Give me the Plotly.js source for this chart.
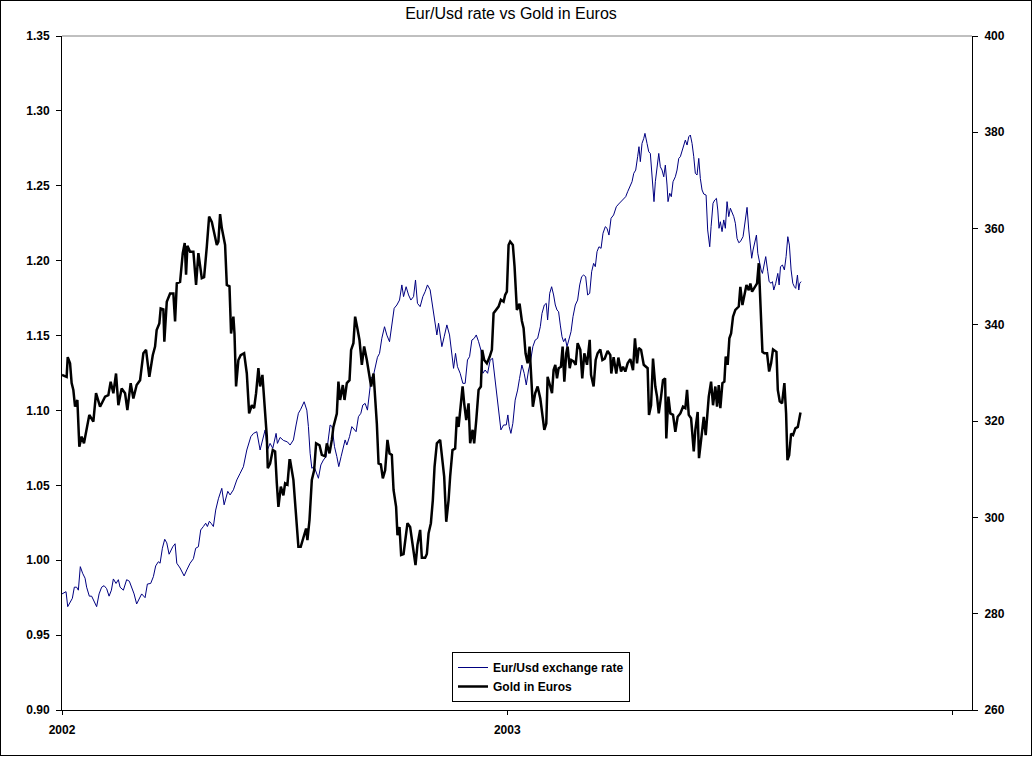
<!DOCTYPE html>
<html>
<head>
<meta charset="utf-8">
<script src="https://cdn.plot.ly/plotly-3.0.1.min.js"></script>
<style>
  body { margin: 0; background: #fff; }
  #chart { width: 1030px; height: 754px; border: 1px solid #000; }
</style>
</head>
<body>
<div id="chart"></div>
<script>
// days counted from 1 Jan 2002
var fxDay = [0, 3.3, 4.7, 6.6, 8.5, 10.1, 12.0, 13.4, 15.0, 16.9, 18.9, 20.2, 22.4, 24.3, 26.3, 28.4, 30.4, 32.5, 34.5, 36.6,
    38.6, 40.5, 42.1, 44.3, 46.2, 47.6, 50.3, 53.0, 55.2, 57.4, 59.1, 61.2, 63.4, 65.3, 68.1, 70.0, 72.7, 74.9, 76.8, 79.0,
    80.4, 82.3, 84.2, 85.9, 87.8, 89.4, 90.8, 92.7, 94.1, 96.8, 100.1, 102.3, 105.0, 107.7, 109.6, 111.8, 113.7, 115.9, 117.8, 119.2,
    120.8, 122.2, 124.1, 126.0, 128.2, 131.0, 132.9, 135.9, 137.8, 140.5, 143.3, 146.0, 148.7, 151.5, 154.8, 157.0, 159.7, 162.4, 164.6, 166.5,
    168.4, 170.6, 172.8, 175.5, 176.6, 178.8, 181.5, 184.8, 187.0, 189.7, 191.9, 193.8, 195.7, 198.5, 200.7, 202.0, 203.4, 204.8, 206.7, 208.3,
    210.2, 212.2, 214.3, 216.5, 218.4, 219.8, 221.4, 223.4, 225.3, 226.9, 228.8, 230.7, 232.1, 233.5, 235.7, 237.6, 239.5, 241.1, 243.0, 245.0,
    246.6, 248.5, 250.4, 252.1, 253.4, 255.4, 256.7, 258.6, 260.3, 262.2, 264.4, 266.3, 268.5, 270.4, 272.3, 274.5, 276.7, 278.6, 280.0, 282.1,
    284.1, 286.0, 288.2, 289.8, 291.4, 293.6, 295.8, 297.7, 299.6, 301.8, 304.0, 305.4, 307.3, 308.7, 310.0, 311.4, 313.3, 315.5, 317.7, 319.3,
    321.0, 322.6, 324.2, 326.4, 328.6, 330.5, 332.4, 334.1, 336.0, 337.9, 339.6, 341.5, 343.4, 345.0, 346.9, 348.9, 351.0, 353.0, 354.9, 356.5,
    357.9, 359.8, 362.0, 364.2, 365.5, 366.6, 368.0, 369.6, 371.5, 373.5, 375.1, 377.0, 378.9, 380.6, 382.5, 383.8, 386.0, 387.9, 389.9, 392.1,
    393.5, 395.4, 397.0, 398.1, 399.8, 401.4, 403.0, 404.4, 405.8, 407.1, 408.5, 409.9, 411.2, 412.6, 414.0, 415.6, 417.3, 418.9, 420.8, 422.7,
    424.4, 426.0, 427.6, 429.3, 430.9, 432.6, 434.2, 435.8, 437.2, 438.6, 440.2, 441.9, 443.5, 445.4, 446.8, 448.4, 450.1, 452.2, 454.4, 456.3,
    458.3, 460.5, 462.1, 463.7, 465.4, 467.3, 468.7, 470.3, 471.9, 473.0, 474.1, 475.5, 476.9, 477.9, 479.6, 481.0, 482.3, 483.4, 484.5, 485.3,
    486.4, 487.8, 489.2, 490.5, 491.9, 493.3, 494.6, 496.0, 496.8, 498.2, 499.5, 500.9, 502.8, 504.2, 505.6, 506.9, 508.3, 509.7, 511.0, 512.4,
    513.8, 515.1, 516.5, 517.9, 519.2, 520.6, 522.0, 523.3, 524.7, 526.1, 528.0, 529.3, 531.0, 532.1, 533.7, 535.1, 536.5, 537.6, 538.6, 539.7,
    541.1, 542.5, 543.8, 545.2, 546.6, 547.9, 549.3, 550.7, 552.0, 553.4, 554.8, 556.1, 558.3, 560.0, 561.6, 563.0, 564.3, 565.4, 566.5, 567.6,
    569.3, 570.4, 571.7, 573.1, 574.2, 575.3, 576.9, 578.6, 579.7, 581.3, 582.4, 583.5, 585.1, 586.8, 587.9, 589.0, 590.6, 592.2, 593.6, 595.0,
    596.3, 597.7, 599.1, 600.4, 601.5, 602.9, 604.0, 604.8, 605.9];

var fxRate = [0.9775, 0.979, 0.969, 0.972, 0.9746, 0.982, 0.982, 0.980, 0.9957, 0.9913, 0.988, 0.982, 0.976, 0.976, 0.973, 0.969, 0.9775, 0.982, 0.983, 0.981,
    0.976, 0.980, 0.9875, 0.9845, 0.987, 0.982, 0.980, 0.987, 0.986, 0.981, 0.9775, 0.9708, 0.975, 0.9775, 0.975, 0.9841, 0.9845, 0.989, 0.9962, 0.999,
    0.998, 1.008, 1.014, 1.0116, 1.004, 1.007, 1.009, 1.011, 0.998, 0.9948, 0.9895, 0.9935, 0.998, 1.001, 1.008, 1.009, 1.0202, 1.0225, 1.0247, 1.0225,
    1.026, 1.0247, 1.0225, 1.0335, 1.041, 1.048, 1.037, 1.046, 1.0436, 1.047, 1.0536, 1.058, 1.0624, 1.0736, 1.0825, 1.0847, 1.0858, 1.0736, 1.080, 1.087,
    1.0736, 1.078, 1.0747, 1.0847, 1.078, 1.082, 1.080, 1.079, 1.0769, 1.0803, 1.0903, 1.0981, 1.1008, 1.1058, 1.1002, 1.0892, 1.0714, 1.0614, 1.0625, 1.0591,
    1.0547, 1.0636, 1.0669, 1.0692, 1.0803, 1.0903, 1.0892, 1.0758, 1.0692, 1.0625, 1.0692, 1.0747, 1.0803, 1.0769, 1.0825, 1.0892, 1.087, 1.0858, 1.0958, 1.0981,
    1.1036, 1.1047, 1.1002, 1.1136, 1.1214, 1.1237, 1.1292, 1.1355, 1.1381, 1.1482, 1.1559, 1.1503, 1.1459, 1.1582, 1.1682, 1.1704, 1.1737, 1.1838, 1.176, 1.1826,
    1.1771, 1.1737, 1.176, 1.1871, 1.1715, 1.1693, 1.176, 1.1793, 1.1838, 1.1805, 1.1693, 1.1626, 1.1504, 1.1582, 1.1492, 1.1426, 1.1492, 1.1571, 1.1504, 1.1381,
    1.1281, 1.1381, 1.1292, 1.1248, 1.1181, 1.1181, 1.1337, 1.1359, 1.147, 1.1481, 1.1504, 1.1459, 1.1403, 1.1248, 1.127, 1.1248, 1.1337, 1.1348, 1.1214, 1.1092,
    1.0981, 1.087, 1.0903, 1.0903, 1.097, 1.0892, 1.0847, 1.0914, 1.1069, 1.1136, 1.1214, 1.1303, 1.1248, 1.1170, 1.127, 1.1314, 1.1426, 1.147, 1.1481, 1.1559,
    1.1648, 1.1704, 1.1715, 1.1604, 1.1782, 1.1826, 1.1771, 1.1704, 1.1671, 1.1659, 1.157, 1.1492, 1.1459, 1.1481, 1.1426, 1.1481, 1.1526, 1.1626, 1.1704, 1.1737,
    1.1838, 1.1893, 1.1904, 1.1893, 1.1771, 1.1782, 1.1926, 1.1982, 1.196, 1.206, 1.2093, 1.2082, 1.2183, 1.2227, 1.2216, 1.2171, 1.2283, 1.2305, 1.236, 1.2378,
    1.2394, 1.241, 1.2427, 1.246, 1.2494, 1.2527, 1.2583, 1.2605, 1.2694, 1.2761, 1.2661, 1.2783, 1.2816, 1.285, 1.2783, 1.2727, 1.2716, 1.2605, 1.2494, 1.2394,
    1.2527, 1.2605, 1.2716, 1.2627, 1.2605, 1.256, 1.2638, 1.2505, 1.2394, 1.245, 1.2427, 1.2527, 1.256, 1.2605, 1.2683, 1.2694, 1.2738, 1.2772, 1.2805, 1.2772,
    1.2827, 1.2839, 1.2783, 1.2694, 1.2583, 1.2572, 1.2683, 1.2549, 1.2472, 1.2445, 1.2438, 1.2205, 1.2093, 1.2227, 1.2383, 1.2405, 1.2416, 1.2338, 1.2216, 1.226,
    1.2194, 1.2272, 1.2216, 1.2394, 1.2294, 1.235, 1.2327, 1.2294, 1.2250, 1.2149, 1.212, 1.2127, 1.216, 1.225, 1.2356, 1.2205, 1.2093, 1.2016, 1.2071, 1.2104,
    1.2171, 1.2049, 1.1982, 1.1938, 1.1915, 1.196, 1.2027, 1.1926, 1.1860, 1.1849, 1.186, 1.1804, 1.1849, 1.1915, 1.1838, 1.196, 1.1971, 1.1938, 1.2027, 1.216,
    1.2104, 1.1938, 1.1849, 1.1826, 1.1815, 1.1904, 1.1804, 1.1849, 1.186];

var goldDay = [0, 3.8, 4.7, 6.6, 7.9, 9.3, 10.7, 12.6, 14.2, 16.1, 18.0, 20.2, 22.4, 25.7, 27.9, 31.2, 35.3, 38.0, 39.9, 42.1,
    44.3, 46.2, 48.9, 51.7, 53.6, 56.3, 58.5, 61.2, 64.0, 66.7, 68.9, 71.6, 74.4, 76.3, 77.6, 79.8, 80.9, 83.1, 83.9, 85.9,
    88.6, 91.3, 92.7, 94.1, 96.8, 99.0, 100.6, 101.7, 102.8, 105.0, 107.7, 109.9, 111.8, 114.6, 116.5, 118.7, 120.6, 122.8, 125.0, 126.9,
    128.2, 129.6, 131.0, 133.7, 135.1, 137.3, 138.6, 140.5, 141.4, 142.7, 144.6, 146.5, 149.3, 151.5, 153.4, 155.6, 157.5, 159.1, 161.0, 162.4,
    164.3, 166.0, 167.9, 168.7, 170.6, 172.8, 174.7, 176.1, 177.4, 179.4, 181.5, 182.9, 184.8, 186.5, 187.0, 189.7, 191.9, 193.8, 195.7, 197.9,
    200.1, 201.2, 202.9, 204.8, 206.7, 208.3, 211.1, 213.0, 215.7, 217.1, 219.3, 221.2, 222.5, 225.3, 226.6, 228.0, 230.2, 231.6, 233.5, 235.7,
    237.0, 238.9, 240.3, 242.2, 243.9, 245.8, 247.7, 249.9, 251.8, 253.4, 255.4, 256.7, 258.1, 259.5, 261.4, 263.0, 264.9, 266.8, 268.5, 270.4,
    271.8, 273.9, 275.0, 276.7, 278.0, 280.0, 281.3, 283.2, 285.4, 286.8, 288.7, 289.8, 291.4, 293.6, 295.0, 297.7, 299.1, 300.5, 302.4, 304.0,
    305.4, 307.3, 310.0, 311.7, 313.3, 315.0, 316.9, 318.2, 320.1, 322.3, 323.7, 325.1, 326.4, 328.4, 329.7, 331.4, 333.3, 334.6, 336.6, 337.9,
    339.6, 341.5, 343.4, 344.5, 346.1, 348.3, 350.5, 352.4, 353.8, 356.0, 357.9, 359.8, 362.0, 363.3, 364.7, 366.1, 367.4, 369.6, 371.0, 372.9,
    375.1, 377.0, 378.4, 380.0, 381.7, 383.3, 384.4, 386.0, 387.9, 389.9, 392.1, 393.5, 395.4, 397.0, 398.1, 400.3, 401.7, 403.0, 404.4, 405.8,
    407.1, 409.0, 410.4, 411.8, 413.4, 414.5, 416.2, 417.5, 419.4, 421.1, 422.7, 424.9, 426.5, 428.2, 430.4, 432.6, 433.7, 435.8, 437.5, 439.1,
    441.3, 443.0, 444.9, 447.3, 449.5, 450.3, 452.2, 454.4, 456.1, 458.3, 459.9, 461.8, 463.7, 465.9, 468.1, 469.7, 471.4, 472.8, 474.7, 476.9,
    479.0, 480.1, 481.2, 482.9, 484.5, 486.4, 487.8, 489.2, 491.1, 492.7, 494.4, 495.4, 497.1, 498.7, 500.9, 502.8, 504.7, 506.9, 509.1, 511.0,
    512.4, 513.8, 515.7, 517.9, 519.2, 521.1, 522.2, 524.1, 526.1, 527.7, 528.8, 530.2, 532.1, 533.7, 535.6, 537.0, 538.4, 539.7, 541.4, 543.0,
    544.1, 545.7, 547.1, 548.5, 550.1, 552.0, 554.8, 556.1, 557.8, 559.4, 561.1, 563.0, 564.3, 565.7, 567.6, 569.8, 571.2, 572.0, 573.1, 574.2,
    575.8, 578.0, 579.7, 581.3, 582.9, 585.7, 586.8, 588.4, 590.3, 592.2, 593.6, 594.7, 596.1, 597.7, 599.3, 601.2, 603.2, 604.8, 605.4];

var goldEur = [329.6, 329.2, 333.3, 332.0, 327.9, 326.5, 323.0, 324.4, 314.7, 316.8, 315.4, 318.2, 321.3, 319.9, 325.8, 323.0, 325.1, 325.4, 328.2, 325.8,
    329.9, 323.3, 326.8, 325.8, 322.3, 327.9, 324.7, 327.5, 328.5, 334.1, 334.8, 329.2, 333.7, 335.5, 338.9, 340.3, 343.4, 343.2, 336.5, 344.8,
    346.5, 346.5, 340.7, 348.6, 348.9, 354.9, 357.0, 350.4, 356.4, 355.2, 355.2, 348.3, 354.9, 349.7, 349.9, 356.2, 362.5, 361.4, 358.7, 356.6,
    357.3, 363.0, 360.1, 356.6, 348.3, 348.0, 338.2, 341.7, 338.2, 327.2, 332.7, 333.7, 334.1, 329.9, 321.6, 323.3, 322.7, 325.8, 331.0, 327.2,
    329.6, 323.0, 316.8, 310.2, 311.2, 314.0, 313.7, 307.1, 302.2, 306.4, 304.6, 307.1, 306.8, 311.9, 311.9, 307.8, 300.1, 293.9, 293.9, 296.0,
    297.7, 295.3, 299.5, 307.8, 309.8, 315.4, 315.0, 313.0, 312.7, 315.4, 313.3, 316.1, 318.8, 321.6, 328.2, 324.4, 327.5, 324.4, 327.9, 328.5,
    334.8, 336.2, 341.7, 339.2, 336.8, 331.7, 335.5, 332.7, 329.9, 327.2, 329.9, 325.1, 319.5, 311.2, 311.0, 308.1, 309.8, 316.1, 313.3, 313.0,
    305.7, 302.2, 296.3, 298.0, 292.2, 292.4, 294.6, 298.8, 298.0, 295.3, 291.8, 290.1, 294.3, 297.4, 291.6, 291.6, 292.4, 296.7, 298.8, 303.6,
    310.5, 315.4, 316.1, 312.7, 308.5, 299.1, 303.6, 308.5, 314.0, 314.3, 320.9, 318.8, 322.3, 327.2, 323.7, 320.2, 323.7, 315.4, 318.2, 315.4,
    320.2, 326.5, 327.2, 334.8, 332.7, 332.0, 333.3, 334.8, 342.4, 343.1, 343.8, 345.2, 344.8, 346.2, 346.9, 356.6, 357.3, 356.6, 352.1, 343.1,
    344.4, 340.8, 339.3, 334.1, 332.0, 335.5, 331.3, 323.0, 325.8, 327.2, 324.7, 321.6, 318.2, 319.5, 329.2, 327.2, 325.8, 330.6, 331.7, 328.9,
    331.0, 331.3, 335.5, 328.2, 334.1, 335.5, 331.0, 332.7, 332.4, 331.7, 336.2, 334.8, 328.9, 334.1, 331.7, 336.9, 329.6, 327.2, 332.7, 334.1,
    334.9, 332.7, 333.0, 334.6, 333.7, 329.9, 333.3, 329.9, 333.2, 330.3, 331.3, 330.3, 332.0, 332.9, 330.6, 337.2, 332.0, 335.2, 334.8, 331.7,
    331.3, 331.0, 321.3, 323.3, 333.0, 327.2, 325.1, 321.6, 325.1, 328.5, 328.9, 316.4, 325.1, 321.6, 321.3, 317.8, 320.9, 321.6, 323.0, 322.7,
    326.5, 321.3, 320.6, 313.7, 318.2, 321.9, 312.3, 316.1, 320.9, 317.1, 321.6, 325.1, 328.2, 323.3, 327.2, 323.0, 327.5, 322.7, 327.9, 328.2,
    333.4, 331.7, 337.2, 338.2, 341.7, 343.1, 343.8, 347.9, 344.1, 346.5, 348.3, 347.2, 348.6, 346.9, 347.6, 348.6, 352.8, 347.2, 341.0, 334.4,
    334.1, 334.1, 330.3, 332.0, 334.9, 334.4, 326.5, 324.1, 323.7, 327.9, 321.6, 311.9, 312.9, 317.4, 317.1, 318.5, 318.8, 320.6, 321.8];

var yearTicks = ['2002-01-01', '2003-01-01', '2004-01-01'];
var yearLabels = ['2002', '2003', ''];

function toDate(d) {
    return new Date(Date.UTC(2002, 0, 1) + d * 864e5).toISOString().replace('T', ' ').slice(0, 19);
}

var tickFont = { family: 'Liberation Sans, Arial, sans-serif', size: 12, color: '#000', weight: 'bold' };

var fx = {
    type: 'scatter',
    x: fxDay.map(toDate),
    y: fxRate,
    name: 'Eur/Usd exchange rate',
    mode: 'lines',
    line: { color: '#000080', width: 1 }
};

var gold = {
    type: 'scatter',
    x: goldDay.map(toDate),
    y: goldEur,
    yaxis: 'y2',
    name: 'Gold in Euros',
    mode: 'lines',
    line: { color: '#000', width: 2.5 }
};

var layout = {
    width: 1030,
    height: 754,
    margin: { l: 61, r: 59, t: 35, b: 45 },
    paper_bgcolor: '#fff',
    plot_bgcolor: '#fff',
    showlegend: true,
    title: {
        text: 'Eur/Usd rate vs Gold in Euros',
        font: { family: 'Liberation Sans, Arial, sans-serif', size: 16, color: '#000' },
        x: 510 / 1030, xanchor: 'center',
        y: 1 - 12 / 754, yanchor: 'middle'
    },
    xaxis: {
        type: 'date',
        range: ['2002-01-01', '2004-01-17'],
        tickvals: yearTicks,
        ticktext: yearLabels,
        ticks: 'outside', ticklen: 4, tickcolor: '#000',
        showline: true, linecolor: '#000', linewidth: 1,
        showgrid: false, zeroline: false,
        ticklabelstandoff: 5,
        tickfont: tickFont
    },
    yaxis: {
        range: [0.90, 1.35],
        dtick: 0.05,
        tickformat: '.2f',
        ticks: 'outside', ticklen: 5, tickcolor: '#000',
        showline: true, linecolor: '#000', linewidth: 1,
        showgrid: false, zeroline: false,
        ticklabelstandoff: 4,
        tickfont: tickFont
    },
    yaxis2: {
        overlaying: 'y',
        side: 'right',
        range: [260, 400],
        dtick: 20,
        ticks: 'outside', ticklen: 5, tickcolor: '#000',
        showline: true, linecolor: '#000', linewidth: 1,
        showgrid: false, zeroline: false,
        ticklabelstandoff: 4,
        tickfont: tickFont
    },
    legend: {
        x: (452 - 62) / 910, xanchor: 'left',
        y: (710 - 652) / 674, yanchor: 'top',
        bgcolor: '#fff',
        bordercolor: '#000', borderwidth: 1,
        font: tickFont,
        tracegroupgap: 0,
        itemwidth: 30
    },
    shapes: [{
        type: 'line', xref: 'paper', yref: 'paper',
        x0: 0, x1: 1, y0: 1, y1: 1,
        line: { color: '#808080', width: 1 }
    }]
};

Plotly.newPlot('chart', [fx, gold], layout, { displayModeBar: false, staticPlot: true });
</script>
</body>
</html>
